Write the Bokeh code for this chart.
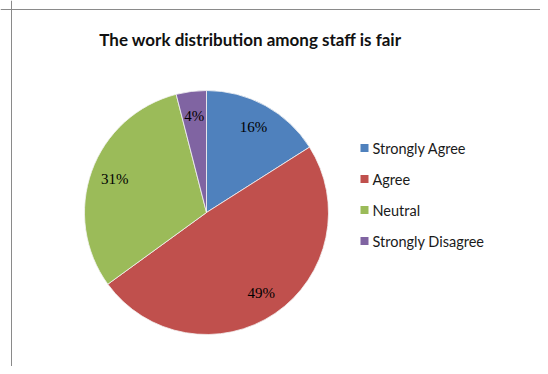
import math
from bokeh.plotting import figure
from bokeh.models import Range1d, Span
from bokeh.core.properties import value
from bokeh.embed import file_html
from bokeh.resources import INLINE

title_text = "The work distribution among staff is fair"
categories = ["Strongly Agree", "Agree", "Neutral", "Strongly Disagree"]
percents = [16, 49, 31, 4]
labels = ["16%", "49%", "31%", "4%"]
colors = ["#4F81BD", "#C0504D", "#9BBB59", "#8064A2"]

W, H = 540, 366
p = figure(width=W, height=H, output_backend="svg", toolbar_location=None,
           x_range=Range1d(0, W), y_range=Range1d(0, H),
           min_border=0, min_border_left=0, min_border_right=0,
           min_border_top=0, min_border_bottom=0)
p.axis.visible = False
p.grid.visible = False
p.outline_line_color = None
p.background_fill_color = "white"
p.border_fill_color = "white"

def py(y):  # image y -> data y
    return H - y

def px(x):
    return x

# chart-area border (left and top edges)
p.add_layout(Span(location=px(11), dimension="height", line_color="#8a8a8a", line_width=1))
p.add_layout(Span(location=py(9), dimension="width", line_color="#8a8a8a", line_width=1))

cx, cy, R = px(206), py(212), 122
total = sum(percents)
starts, ends, lx, ly = [], [], [], []
cum = 0.0
for v in percents:
    a0 = math.pi / 2 - 2 * math.pi * cum / total
    a1 = math.pi / 2 - 2 * math.pi * (cum + v) / total
    starts.append(a0)
    ends.append(a1)
    mid = (a0 + a1) / 2
    lx.append(cx + 0.8 * R * math.cos(mid))
    ly.append(cy + 0.8 * R * math.sin(mid))
    cum += v

p.wedge(x=cx, y=cy, radius=R, start_angle=starts, end_angle=ends,
        direction="clock", fill_color=colors, line_color="#f4f4f4", line_width=0.8)

p.text(x=lx, y=ly, text=labels, text_font=value("Liberation Serif"),
       text_font_size="15px", text_align="center", text_baseline="middle",
       text_color="#000000")

# title
p.text(x=[px(250)], y=[py(39)], text=[title_text], text_font=value("Lato"),
       text_font_size="17px", text_font_style="bold", text_align="center",
       text_baseline="middle", text_color="#111111")

# legend
leg_y = [py(147.5 + 31 * i) for i in range(len(categories))]
p.scatter(x=[px(364)] * len(categories), y=leg_y, marker="square", size=8,
          fill_color=colors, line_color=None)
p.text(x=[px(372)] * len(categories), y=leg_y, text=categories,
       text_font=value("Lato"), text_font_size="14.5px", text_align="left",
       text_baseline="middle", text_color="#1a1a1a")

open("out.html", "w").write(file_html(p, INLINE))
